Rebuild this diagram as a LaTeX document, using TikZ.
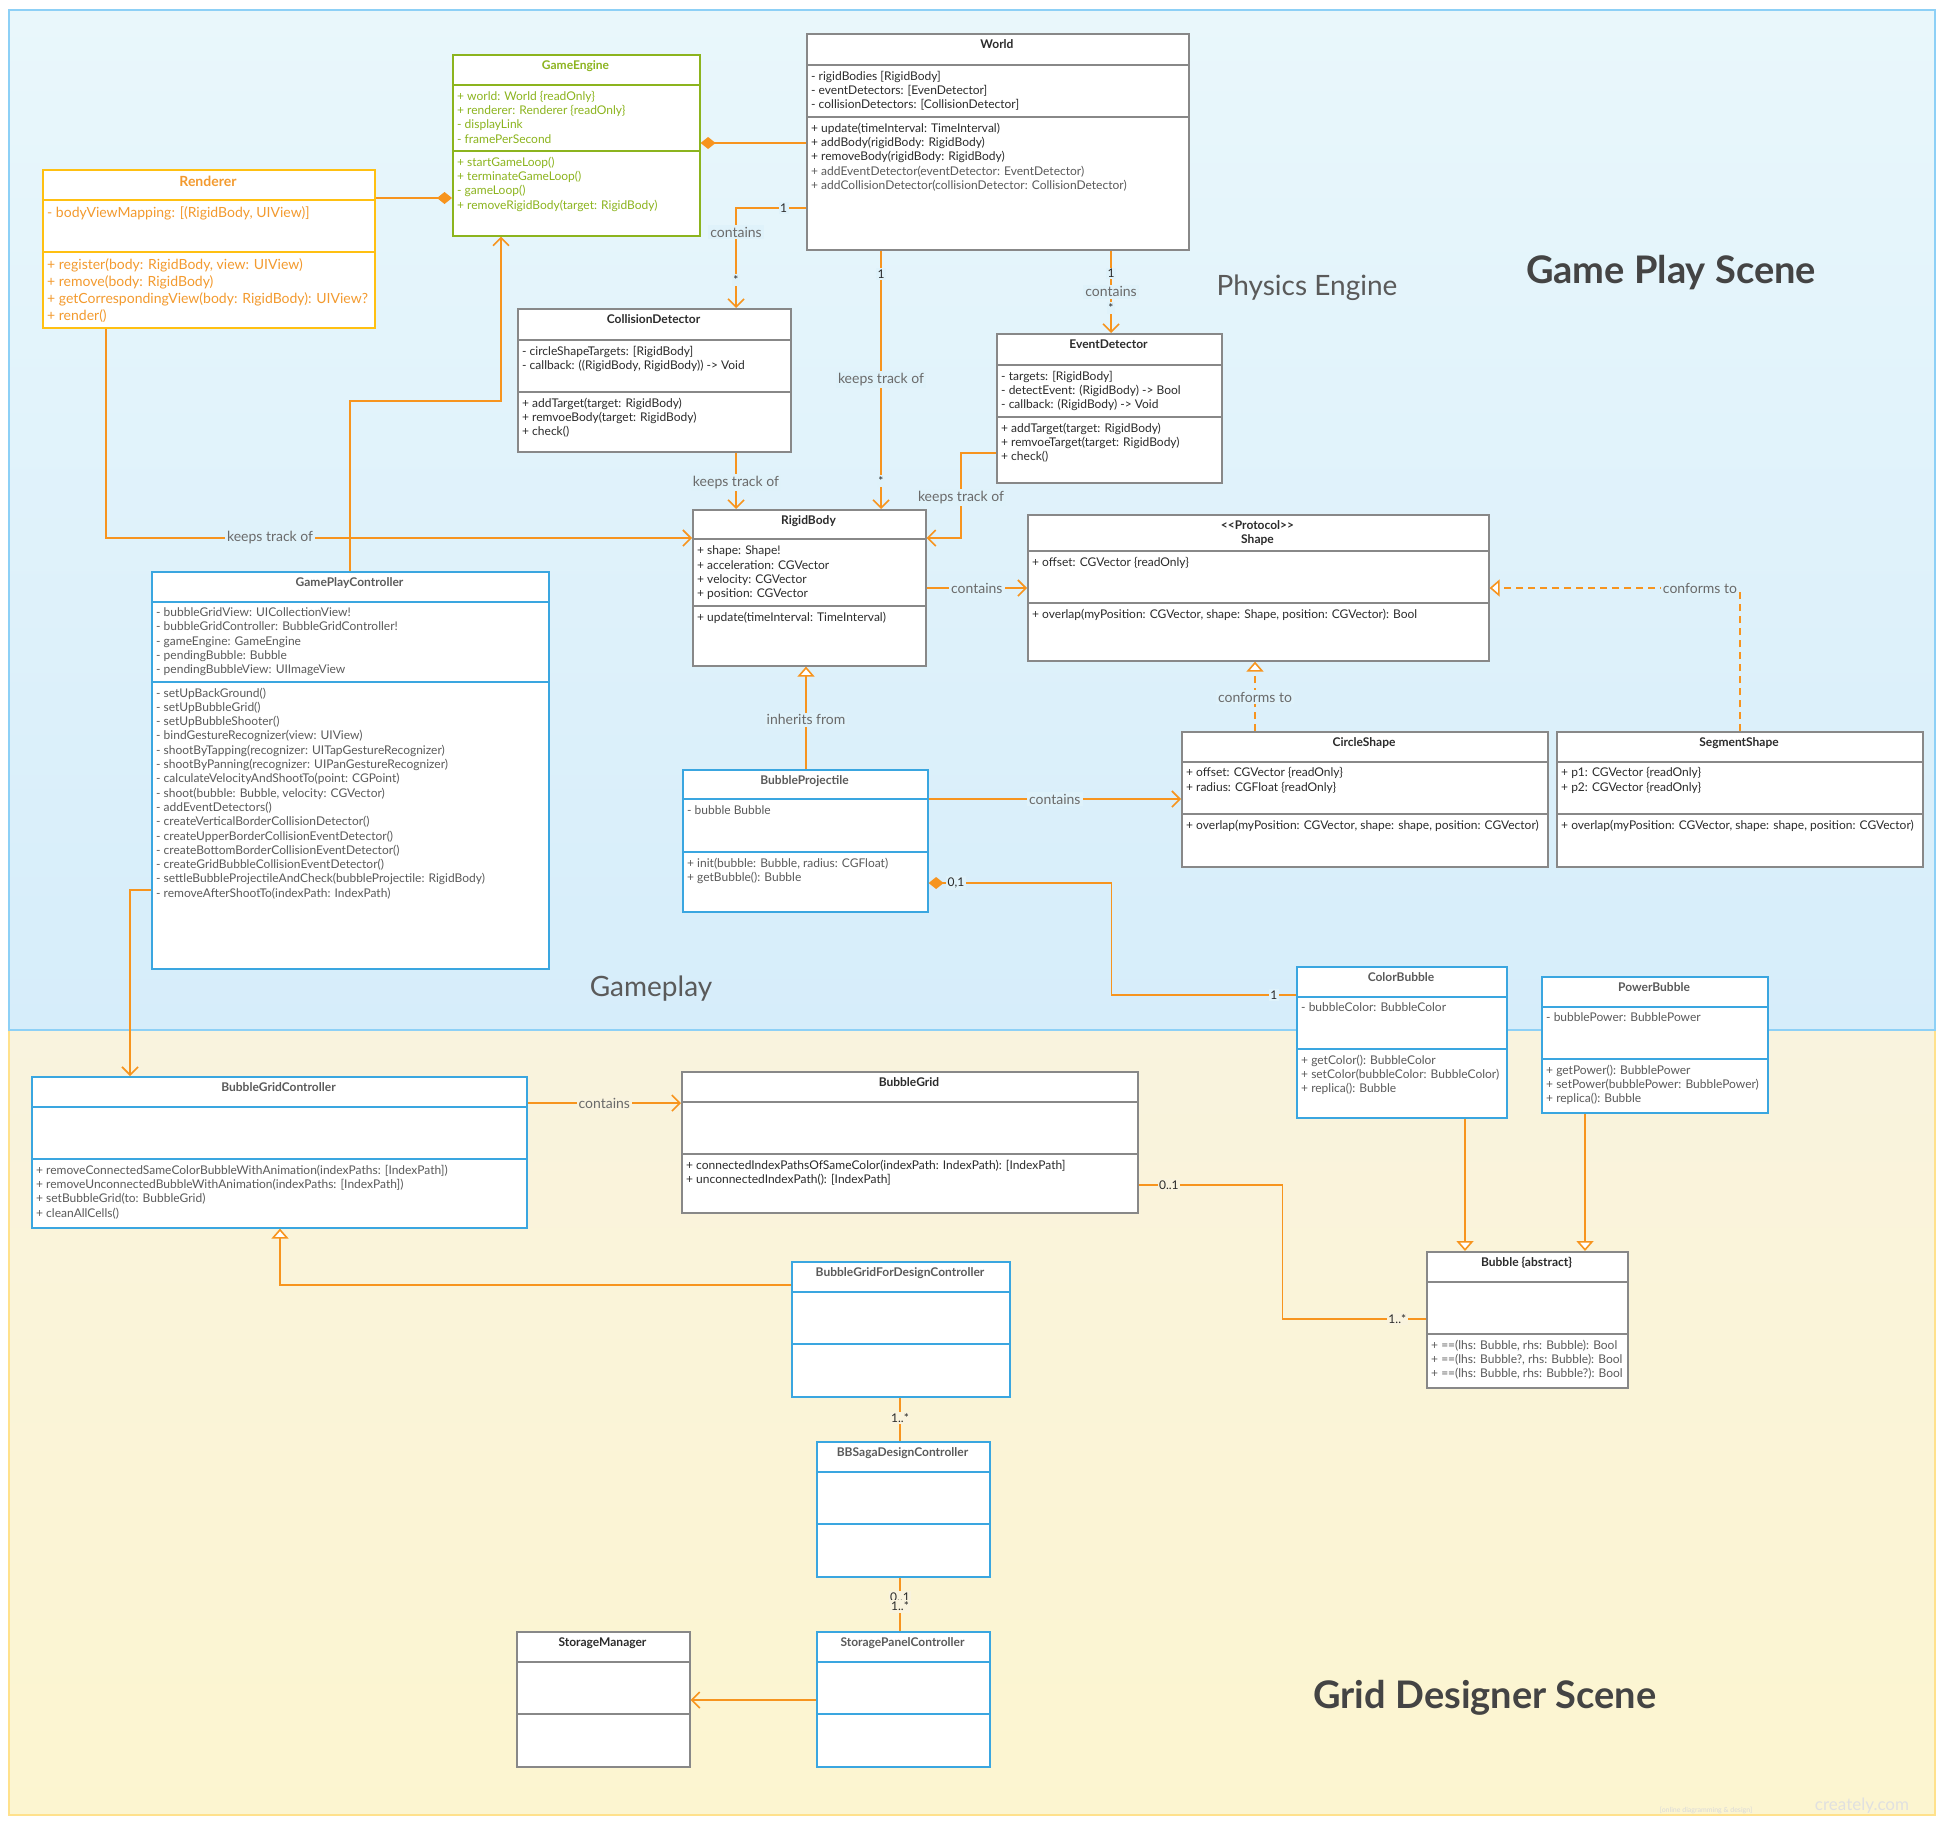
\documentclass[tikz,border=0pt]{standalone}
\usepackage{fontspec}
\setmainfont{Lato}
\usetikzlibrary{arrows.meta,calc}

\definecolor{orangeline}{HTML}{F7941E}
\definecolor{boxblue}{HTML}{3AA6E0}
\definecolor{boxgray}{HTML}{888888}
\definecolor{boxgreen}{HTML}{8CB41E}
\definecolor{boxyellow}{HTML}{FFC012}
\definecolor{rendtext}{HTML}{F39A2E}
\definecolor{darktext}{HTML}{2B2B2B}
\definecolor{midtext}{HTML}{5A5A5A}
\definecolor{lblgray}{HTML}{6A6A6A}
\definecolor{bluetop}{HTML}{E9F7FB}
\definecolor{bluebot}{HTML}{D6EDFA}
\definecolor{blueframe}{HTML}{8DD0F6}
\definecolor{yellowtop}{HTML}{F9F3DE}
\definecolor{yellowbot}{HTML}{FCF5D0}
\definecolor{yellowframe}{HTML}{FFE18C}
\definecolor{scenetext}{HTML}{444444}

% class box: style, name, left, top, right, bottom, sep1, sep2, title
\newcommand{\umlclass}[9]{%
  \node[#1, anchor=north west, minimum width={(#5-#3)*1pt}, minimum height={(#6-#4)*1pt}] (#2) at (#3,#4) {};
  \draw[#1 line] (#3,#7) -- (#5,#7) (#3,#8) -- (#5,#8);
  \node[ctitle, #1 title, anchor=north] (#2-t) at ({(#3+#5)/2},{#4+6.5}) {#9};
}

\begin{document}
\begin{tikzpicture}[x=1pt, y=-1pt,
    box/.style={fill=white, line width=1.6pt, inner sep=0pt},
    graybox/.style={box, draw=boxgray},
    graybox line/.style={draw=boxgray, line width=1.6pt},
    graybox title/.style={text=darktext},
    bluebox/.style={box, draw=boxblue},
    bluebox line/.style={draw=boxblue, line width=1.6pt},
    bluebox title/.style={text=midtext},
    greenbox/.style={box, draw=boxgreen},
    greenbox line/.style={draw=boxgreen, line width=1.6pt},
    greenbox title/.style={text=boxgreen},
    yellowbox/.style={box, draw=boxyellow},
    yellowbox line/.style={draw=boxyellow, line width=1.6pt},
    yellowbox title/.style={text=rendtext, font=\bfseries\fontsize{14}{17}\selectfont},
    ctitle/.style={font=\bfseries\fontsize{12}{14.3}\selectfont, align=center, inner sep=0pt},
    ctext/.style={font=\fontsize{12}{14.3}\selectfont, align=left, inner sep=0pt, anchor=north west},
    plain/.style={draw=orangeline, line width=1.6pt},
    assoc/.style={plain, -{Straight Barb[length=8pt,width=16pt]}},
    inherit/.style={plain, -{Triangle[open,fill=white,length=10pt,width=17pt]}},
    realize/.style={inherit, dash pattern=on 7pt off 5pt},
    compose/.style={plain, {Diamond[length=15pt,width=12pt]}-},
    lbl/.style={font=\fontsize{14}{16}\selectfont, text=lblgray, fill=bluebot!55!bluetop, inner sep=2pt},
    mult/.style={font=\fontsize{12}{13}\selectfont, text=darktext, fill=bluebot!55!bluetop, inner sep=1.5pt},
    scene/.style={font=\bfseries\fontsize{38}{44}\selectfont, text=scenetext},
    area/.style={font=\fontsize{28}{32}\selectfont, text=midtext}]

  \useasboundingbox[fill=white] (0,0) rectangle (1945,1825);
  \shadedraw[top color=yellowtop, bottom color=yellowbot, draw=yellowframe, line width=2pt] (9,1030) rectangle (1935,1815);
  \shadedraw[top color=bluetop, bottom color=bluebot, draw=blueframe, line width=2pt] (9,10) rectangle (1935,1030);

  \node[scene] (gps) at (1671,273) {Game Play Scene};
  \node[scene] (gds) at (1485,1698) {Grid Designer Scene};
  \node[area] (phys) at (1307,288) {Physics Engine};
  \node[area] (gplay) at (651,989) {Gameplay};
  \node[font=\fontsize{7}{8}\selectfont, text=black!15] (wm1) at (1706,1810) {[online diagramming \& design]};
  \node[font=\fontsize{17}{18}\selectfont, text=black!12] (wm2) at (1862,1806) {creately.com};

  % physics engine
  \umlclass{yellowbox}{renderer}{42}{169}{374}{327}{200}{252}{Renderer}
  \node[ctext, text=rendtext, font=\fontsize{14}{17}\selectfont] (renderer-a) at (47,206) {- bodyViewMapping: [(RigidBody, UIView)]};
  \node[ctext, text=rendtext, font=\fontsize{14}{17}\selectfont] (renderer-m) at (47,258) {+ register(body: RigidBody, view: UIView)\\+ remove(body: RigidBody)\\+ getCorrespondingView(body: RigidBody): UIView?\\+ render()};

  \umlclass{greenbox}{gameengine}{452}{54}{699}{235}{85}{151}{GameEngine}
  \node[ctext, text=boxgreen] (gameengine-a) at (457,90.8) {+ world: World \{readOnly\}\\+ renderer: Renderer \{readOnly\}\\- displayLink\\- framePerSecond};
  \node[ctext, text=boxgreen] (gameengine-m) at (457,156.8) {+ startGameLoop()\\+ terminateGameLoop()\\- gameLoop()\\+ removeRigidBody(target: RigidBody)};

  \umlclass{graybox}{world}{806}{33}{1188}{249}{65}{117}{World}
  \node[ctext, text=darktext] (world-a) at (811,70.8) {- rigidBodies [RigidBody]\\- eventDetectors: [EvenDetector]\\- collisionDetectors: [CollisionDetector]};
  \node[ctext, text=darktext] (world-m) at (811,122.5) {+ update(timeInterval: TimeInterval)\\+ addBody(rigidBody: RigidBody)\\+ removeBody(rigidBody: RigidBody)};
  \node[ctext, text=midtext] (world-m2) at (811,165.5) {+ addEventDetector(eventDetector: EventDetector)\\+ addCollisionDetector(collisionDetector: CollisionDetector)};

  \umlclass{graybox}{cd}{517}{308}{790}{451}{340}{392}{CollisionDetector}
  \node[ctext, text=darktext] (cd-a) at (522,345.8) {- circleShapeTargets: [RigidBody]\\- callback: ((RigidBody, RigidBody)) -> Void};
  \node[ctext, text=darktext] (cd-m) at (522,397.8) {+ addTarget(target: RigidBody)\\+ remvoeBody(target: RigidBody)\\+ check()};

  \umlclass{graybox}{ed}{996}{333}{1221}{482}{365}{417}{EventDetector}
  \node[ctext, text=darktext] (ed-a) at (1001,370.8) {- targets: [RigidBody]\\- detectEvent: (RigidBody) -> Bool\\- callback: (RigidBody) -> Void};
  \node[ctext, text=darktext] (ed-m) at (1001,422.5) {+ addTarget(target: RigidBody)\\+ remvoeTarget(target: RigidBody)\\+ check()};

  \umlclass{graybox}{rb}{692}{509}{925}{665}{539}{606}{RigidBody}
  \node[ctext, text=darktext] (rb-a) at (697,545.8) {+ shape: Shape!\\+ acceleration: CGVector\\+ velocity: CGVector\\+ position: CGVector};
  \node[ctext, text=darktext] (rb-m) at (697,611.8) {+ update(timeInterval: TimeInterval)};

  \umlclass{graybox}{shape}{1027}{514}{1488}{660}{551}{603}{<{}<Protocol>{}>\\Shape}
  \node[ctext, text=darktext] (shape-a) at (1032,556.8) {+ offset: CGVector \{readOnly\}};
  \node[ctext, text=darktext] (shape-m) at (1032,608.8) {+ overlap(myPosition: CGVector, shape: Shape, position: CGVector): Bool};

  \umlclass{graybox}{circle}{1181}{731}{1547}{866}{762}{814}{CircleShape}
  \node[ctext, text=darktext] (circle-a) at (1186,767.5) {+ offset: CGVector \{readOnly\}\\+ radius: CGFloat \{readOnly\}};
  \node[ctext, text=darktext] (circle-m) at (1186,819.8) {+ overlap(myPosition: CGVector, shape: shape, position: CGVector)};

  \umlclass{graybox}{segment}{1556}{731}{1922}{866}{762}{814}{SegmentShape}
  \node[ctext, text=darktext] (segment-a) at (1561,767.5) {+ p1: CGVector \{readOnly\}\\+ p2: CGVector \{readOnly\}};
  \node[ctext, text=darktext] (segment-m) at (1561,819.8) {+ overlap(myPosition: CGVector, shape: shape, position: CGVector)};

  % gameplay
  \umlclass{bluebox}{gpc}{151}{571}{548}{968}{602}{682}{GamePlayController}
  \node[ctext, text=midtext] (gpc-a) at (156,607.5) {- bubbleGridView: UICollectionView!\\- bubbleGridController: BubbleGridController!\\- gameEngine: GameEngine\\- pendingBubble: Bubble\\- pendingBubbleView: UIImageView};
  \node[ctext, text=midtext] (gpc-m) at (156,687.5) {- setUpBackGround()\\- setUpBubbleGrid()\\- setUpBubbleShooter()\\- bindGestureRecognizer(view: UIView)\\- shootByTapping(recognizer: UITapGestureRecognizer)\\- shootByPanning(recognizer: UIPanGestureRecognizer)\\- calculateVelocityAndShootTo(point: CGPoint)\\- shoot(bubble: Bubble, velocity: CGVector)\\- addEventDetectors()\\- createVerticalBorderCollisionDetector()\\- createUpperBorderCollisionEventDetector()\\- createBottomBorderCollisionEventDetector()\\- createGridBubbleCollisionEventDetector()\\- settleBubbleProjectileAndCheck(bubbleProjectile: RigidBody)\\- removeAfterShootTo(indexPath: IndexPath)};

  \umlclass{bluebox}{bp}{682}{769}{927}{911}{799}{852}{BubbleProjectile}
  \node[ctext, text=midtext] (bp-a) at (687,805.5) {- bubble Bubble};
  \node[ctext, text=midtext] (bp-m) at (687,857.5) {+ init(bubble: Bubble, radius: CGFloat)\\+ getBubble(): Bubble};

  \umlclass{bluebox}{colorbubble}{1296}{966}{1506}{1117}{997}{1049}{ColorBubble}
  \node[ctext, text=midtext] (colorbubble-a) at (1301,1002.5) {- bubbleColor: BubbleColor};
  \node[ctext, text=midtext] (colorbubble-m) at (1301,1054.5) {+ getColor(): BubbleColor\\+ setColor(bubbleColor: BubbleColor)\\+ replica(): Bubble};

  \umlclass{bluebox}{powerbubble}{1541}{976}{1767}{1112}{1007}{1059}{PowerBubble}
  \node[ctext, text=midtext] (powerbubble-a) at (1546,1012.5) {- bubblePower: BubblePower};
  \node[ctext, text=midtext] (powerbubble-m) at (1546,1064.5) {+ getPower(): BubblePower\\+ setPower(bubblePower: BubblePower)\\+ replica(): Bubble};

  % grid designer
  \umlclass{bluebox}{bgc}{31}{1076}{526}{1227}{1107}{1159}{BubbleGridController}
  \node[ctext, text=midtext] (bgc-m) at (36,1164.8) {+ removeConnectedSameColorBubbleWithAnimation(indexPaths: [IndexPath])\\+ removeUnconnectedBubbleWithAnimation(indexPaths: [IndexPath])\\+ setBubbleGrid(to: BubbleGrid)\\+ cleanAllCells()};

  \umlclass{graybox}{bubblegrid}{681}{1071}{1137}{1212}{1102}{1154}{BubbleGrid}
  \node[ctext, text=darktext] (bubblegrid-m) at (686,1159.8) {+ connectedIndexPathsOfSameColor(indexPath: IndexPath): [IndexPath]\\+ unconnectedIndexPath(): [IndexPath]};

  \umlclass{graybox}{bubble}{1426}{1251}{1627}{1387}{1282}{1334}{Bubble \{abstract\}}
  \node[ctext, text=midtext] (bubble-m) at (1431,1339.5) {+ ==(lhs: Bubble, rhs: Bubble): Bool\\+ ==(lhs: Bubble?, rhs: Bubble): Bool\\+ ==(lhs: Bubble, rhs: Bubble?): Bool};

  \umlclass{bluebox}{bgfdc}{791}{1261}{1009}{1396}{1292}{1344}{BubbleGridForDesignController}
  \umlclass{bluebox}{bbsdc}{816}{1441}{989}{1576}{1472}{1524}{BBSagaDesignController}
  \umlclass{bluebox}{spc}{816}{1631}{989}{1766}{1662}{1714}{StoragePanelController}
  \umlclass{graybox}{sm}{516}{1631}{689}{1766}{1662}{1714}{StorageManager}

  % connectors
  \draw[compose] (gameengine.west |- 0,198) -- (renderer.east |- 0,198);
  \draw[compose] (gameengine.east |- 0,143) -- (world.west |- 0,143);
  \draw[assoc] (world.west |- 0,208) -| node[mult,pos=.16] (m-wcd1) {1} node[lbl,pos=.62] (l-wcd) {contains} node[mult,pos=.86] (m-wcd2) {*} (cd.north -| 736,0);
  \draw[assoc] (world.south -| 881,0) -- node[mult,pos=.09] (m-wrb1) {1} node[lbl,pos=.5] (l-wrb) {keeps track of} node[mult,pos=.89] (m-wrb2) {*} (rb.north -| 881,0);
  \draw[assoc] (world.south -| 1111,0) -- node[mult,pos=.28] (m-wed1) {1} node[lbl,pos=.5] (l-wed) {contains} node[mult,pos=.7] (m-wed2) {*} (ed.north -| 1111,0);
  \draw[assoc] (cd.south -| 736,0) -- node[lbl,pos=.53] (l-cdrb) {keeps track of} (rb.north -| 736,0);
  \draw[assoc] (ed.west |- 0,453) -- ++(-35,0) |- node[lbl,pos=.26] (l-edrb) {keeps track of} (rb.east |- 0,538);
  \draw[assoc] (renderer.south -| 106,0) |- node[lbl,pos=.64] (l-rrb) {keeps track of} (rb.west |- 0,538);
  \draw[assoc] (gpc.north -| 350,0) -- ++(0,-170) -| (gameengine.south -| 501,0);
  \draw[assoc] (gpc.west |- 0,890) -| (bgc.north -| 130,0);
  \draw[assoc] (rb.east |- 0,588) -- node[lbl] (l-rbs) {contains} (shape.west |- 0,588);
  \draw[inherit] (bp.north -| 806,0) -- node[lbl,pos=.48] (l-bprb) {inherits from} (rb.south -| 806,0);
  \draw[assoc] (bp.east |- 0,799) -- node[lbl] (l-bpcs) {contains} (circle.west |- 0,799);
  \draw[realize] (circle.north -| 1255,0) -- node[lbl,pos=.49] (l-css) {conforms to} (shape.south -| 1255,0);
  \draw[realize] (segment.north -| 1740,0) |- node[lbl,pos=.58] (l-sss) {conforms to} (shape.east |- 0,588);
  \draw[compose] (bp.east |- 0,883) -- node[mult,pos=.15] (m-bpc1) {0,1} ++(183,0) |- node[mult,pos=.94] (m-bpc2) {1} (colorbubble.west |- 0,995);
  \draw[inherit] (colorbubble.south -| 1465,0) -- (bubble.north -| 1465,0);
  \draw[inherit] (powerbubble.south -| 1585,0) -- (bubble.north -| 1585,0);
  \draw[assoc] (bgc.east |- 0,1103) -- node[lbl,fill=yellowtop] (l-bgc) {contains} (bubblegrid.west |- 0,1103);
  \draw[plain] (bubblegrid.east |- 0,1185) -- node[mult,fill=yellowtop,pos=.21] (m-bgb1) {0..1} ++(144,0) |- node[mult,fill=yellowtop,pos=.9] (m-bgb2) {1..*} (bubble.west |- 0,1319);
  \draw[inherit] (bgfdc.west |- 0,1285) -| (bgc.south -| 280,0);
  \draw[plain] (bgfdc.south -| 900,0) -- node[mult,fill=yellowtop,pos=.47] (m-bgbb) {1..*} (bbsdc.north -| 900,0);
  \draw[plain] (bbsdc.south -| 900,0) -- node[mult,fill=yellowtop,pos=.36] (m-bbs1) {0..1} node[mult,fill=yellowtop,pos=.54] (m-bbs2) {1..*} (spc.north -| 900,0);
  \draw[assoc] (spc.west |- 0,1700) -- (sm.east |- 0,1700);
\end{tikzpicture}
\end{document}
